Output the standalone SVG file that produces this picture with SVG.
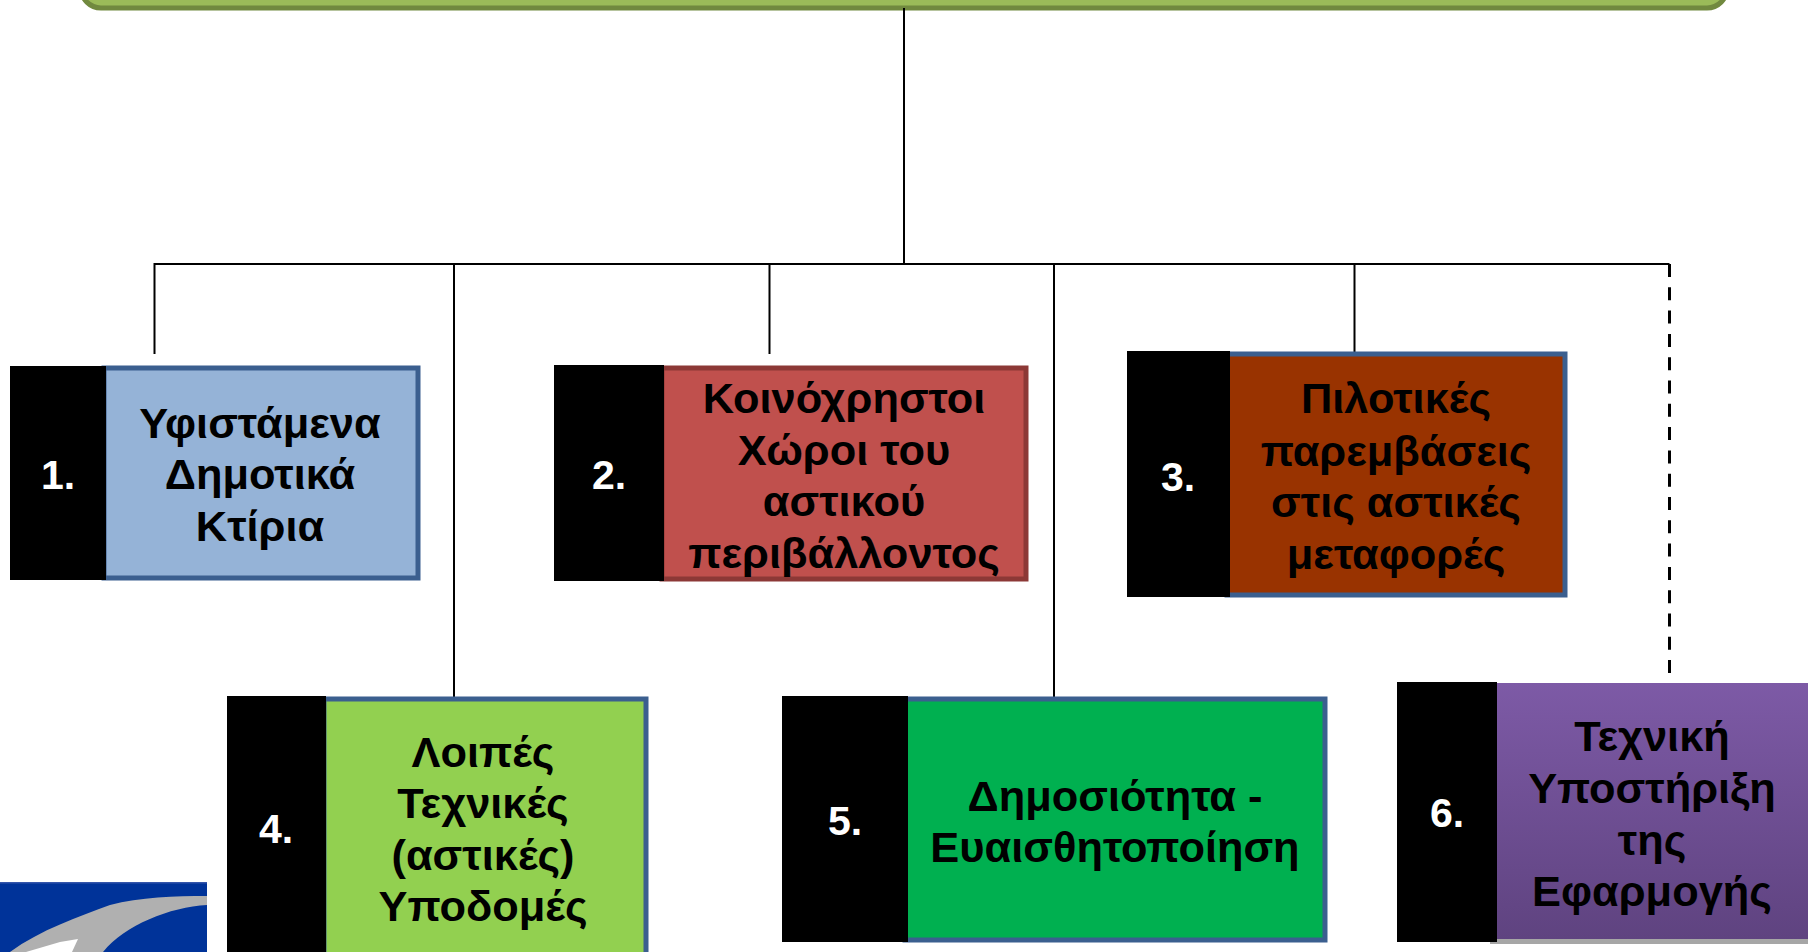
<svg xmlns="http://www.w3.org/2000/svg" width="1808" height="952" viewBox="0 0 1808 952">
<style>
text{font-family:"Liberation Sans",Arial,"DejaVu Sans",sans-serif;font-weight:700;text-anchor:middle}
.t{font-size:43.4px;fill:#000}
.n{font-size:41px;fill:#fff}
.k{fill:#000}
.c{fill:none;stroke:#000;stroke-width:2}
.d{fill:none;stroke:#000;stroke-width:3;stroke-dasharray:13 10.300}
.b{stroke-width:5}
</style>
<defs>
<linearGradient id="pg" x1="0" y1="0" x2="0" y2="1"><stop offset="0" stop-color="#7D5AA6"/><stop offset="1" stop-color="#5F4380"/></linearGradient>
</defs>
<rect width="1808" height="952" fill="#fff"/>
<g id="top-bar"><rect x="81" y="-60" width="1646" height="68" rx="20" fill="#9BBB59" stroke="#71893F" stroke-width="5"/></g>
<g id="connectors">
<path class="c" d="M904 8V264M154.500 354V264H1669.500M454 264V698M769.500 264V354M1054 264V698M1354.500 264V354"/>
<path class="d" d="M1669.500 264V673"/>
</g>
<g id="logo">
<rect x="0" y="883" width="207" height="69" fill="#003399"/>
<rect x="0" y="882" width="207" height="1.500" fill="#3355AA"/>
<path d="M10 952C40 930 80 916 110 905C140 897 175 896 207 896V905C170 907 125 925 103 952Z" fill="#B0B0B0"/>
<path d="M26 952L60 942L78 939L72 952Z" fill="#fff"/>
</g>
<g id="node-1"><rect x="104" y="368" width="314" height="210" fill="#95B3D7" stroke="#3B5F8F" class="b"/><rect class="k" x="10" y="366" width="96" height="214"/><text class="n" x="58" y="489">1.</text><text class="t"><tspan x="260" y="437.500">Υφιστάμενα</tspan><tspan x="260" y="489">Δημοτικά</tspan><tspan x="260" y="540.500">Κτίρια</tspan></text></g>
<g id="node-2"><rect x="662" y="368" width="364" height="211" fill="#C0504D" stroke="#8C3836" class="b"/><rect class="k" x="554" y="365" width="110" height="216"/><text class="n" x="609" y="489">2.</text><text class="t"><tspan x="844" y="413">Κοινόχρηστοι</tspan><tspan x="844" y="464.500">Χώροι του</tspan><tspan x="844" y="516">αστικού</tspan><tspan x="844" y="567.500">περιβάλλοντος</tspan></text></g>
<g id="node-3"><rect x="1227" y="354" width="338" height="241" fill="#993300" stroke="#3B5F8F" class="b"/><rect class="k" x="1127" y="351" width="103" height="246"/><text class="n" x="1178" y="491">3.</text><text class="t"><tspan x="1396" y="413">Πιλοτικές</tspan><tspan x="1396" y="465.500">παρεμβάσεις</tspan><tspan x="1396" y="517">στις αστικές</tspan><tspan x="1396" y="568.500">μεταφορές</tspan></text></g>
<g id="node-4"><rect x="324" y="699" width="322" height="270" fill="#92D050" stroke="#3B5F8F" class="b"/><rect class="k" x="227" y="696" width="99" height="256"/><text class="n" x="276" y="843">4.</text><text class="t"><tspan x="483" y="766.500">Λοιπές</tspan><tspan x="483" y="818">Τεχνικές</tspan><tspan x="483" y="869.500">(αστικές)</tspan><tspan x="483" y="921">Υποδομές</tspan></text></g>
<g id="node-5"><rect x="905" y="699" width="420" height="241" fill="#00B050" stroke="#3B5F8F" class="b"/><rect class="k" x="782" y="696" width="126" height="246"/><text class="n" x="845" y="835">5.</text><text class="t"><tspan x="1115" y="810.500">Δημοσιότητα -</tspan><tspan x="1115" y="862">Ευαισθητοποίηση</tspan></text></g>
<g id="node-6"><rect x="1490" y="686" width="318" height="258" fill="#A6A6A6"/><rect x="1497" y="683" width="311" height="256" fill="url(#pg)"/><rect class="k" x="1397" y="682" width="100" height="260"/><text class="n" x="1447" y="827">6.</text><text class="t"><tspan x="1652" y="750.500">Τεχνική</tspan><tspan x="1652" y="803">Υποστήριξη</tspan><tspan x="1652" y="854.500">της</tspan><tspan x="1652" y="906">Εφαρμογής</tspan></text></g>
</svg>
